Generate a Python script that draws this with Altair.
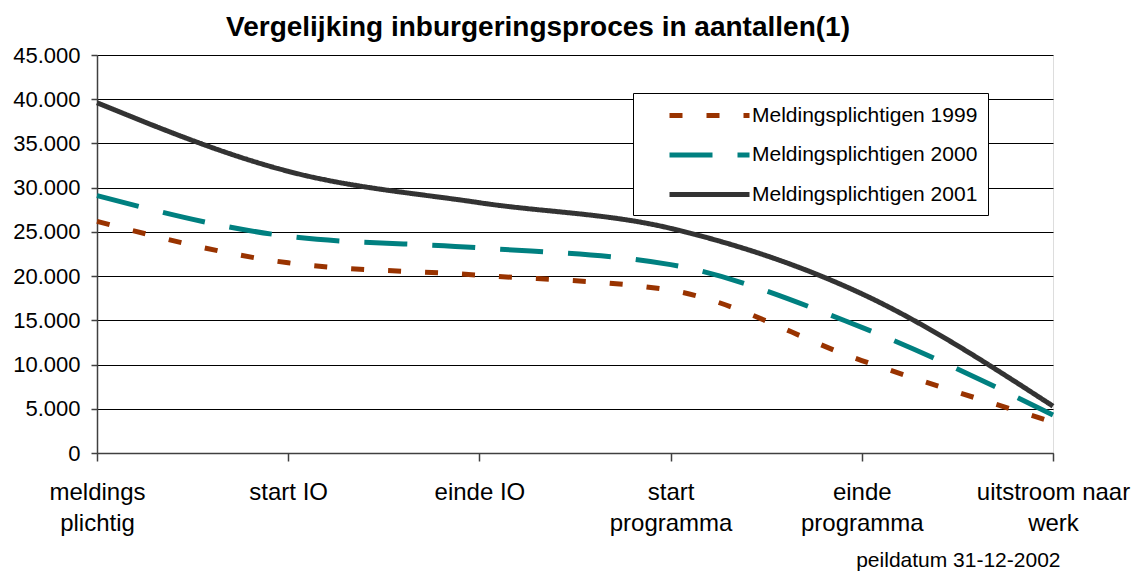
import altair as alt
import pandas as pd

# --- data ---
categories = ["meldings|plichtig", "start IO", "einde IO", "start|programma", "einde|programma", "uitstroom naar|werk"]
series_names = ["Meldingsplichtigen 1999", "Meldingsplichtigen 2000", "Meldingsplichtigen 2001"]
v1999 = [26200, 21500, 20100, 18400, 10450, 3500]
v2000 = [29100, 24500, 23200, 21300, 14200, 4300]
v2001 = [39600, 31850, 28300, 25400, 18000, 5300]
y_ticks = [0, 5000, 10000, 15000, 20000, 25000, 30000, 35000, 40000, 45000]
colors = ["#993300", "#008080", "#333333"]
dashes = [[13, 24], [43, 25], [1, 0]]
title_text = "Vergelijking inburgeringsproces in aantallen(1)"
footnote = "peildatum 31-12-2002"

rows = []
for name, vals in zip(series_names, [v1999, v2000, v2001]):
    for i, (c, v) in enumerate(zip(categories, vals)):
        rows.append({"stap": c, "order": i, "serie": name, "aantal": v})
df = pd.DataFrame(rows)

FONT = "Liberation Sans"

chart = alt.Chart(df).mark_line(
    interpolate="monotone", strokeWidth=5, strokeCap="butt", clip=False
).encode(
    x=alt.X(
        "stap:N",
        sort=categories,
        scale=alt.Scale(type="point", padding=0),
        axis=alt.Axis(
            title=footnote,
            titleFont=FONT,
            titleFontSize=21,
            titleFontWeight="normal",
            titleColor="black",
            titleX=963,
            titleY=113,
            titleAlign="right",
            titleBaseline="alphabetic",
            titleAnchor="end",
            labelExpr="split(datum.label, '|')",
            labelAngle=0,
            labelFont=FONT,
            labelFontSize=24,
            labelColor="black",
            labelPadding=19,
            labelLineHeight=31,
            labelBaseline="top",
            labelOverlap=False,
            labelFlush=False,
            tickSize=8,
            tickColor="#404040",
            tickWidth=1.5,
            domainColor="#404040",
            domainWidth=1.5,
            grid=False,
        ),
    ),
    y=alt.Y(
        "aantal:Q",
        scale=alt.Scale(domain=[0, 45000], nice=False),
        axis=alt.Axis(
            title=None,
            values=y_ticks,
            labelExpr="replace(format(datum.value, ','), ',', '.')",
            labelFont=FONT,
            labelFontSize=22,
            labelColor="black",
            labelPadding=11,
            tickSize=6,
            tickColor="#404040",
            tickWidth=1.5,
            domainColor="#404040",
            domainWidth=1.5,
            grid=True,
            gridColor="black",
            gridWidth=1,
        ),
    ),
    color=alt.Color(
        "serie:N",
        scale=alt.Scale(domain=series_names, range=colors),
        legend=alt.Legend(
            title=None,
            orient="none",
            legendX=536,
            legendY=38,
            fillColor="white",
            strokeColor="black",
            padding=10,
            symbolType="M-4,0H4",
            symbolSize=400,
            symbolStrokeWidth=5,
            symbolOffset=54,
            labelFont=FONT,
            labelFontSize=21,
            labelColor="black",
            labelOffset=30,
            rowPadding=16.5,
            labelLimit=400,
        ),
    ),
    strokeDash=alt.StrokeDash(
        "serie:N",
        scale=alt.Scale(domain=series_names, range=dashes),
        legend=None,
    ),
    order="order:Q",
).properties(
    width=956,
    height=398,
    autosize=alt.AutoSizeParams(type="none"),
    padding={"left": 89, "top": 47, "right": 78, "bottom": 122},
    title=alt.Title(
        title_text,
        font=FONT,
        fontSize=28,
        fontWeight="bold",
        color="black",
        anchor="middle",
        dx=-37,
        offset=2,
    ),
).configure_view(
    fill="#FFFFCC", stroke="#808080", strokeWidth=1.5
).configure(background="white")

chart.save("out.html", embed_options={"renderer": "svg", "actions": False})
